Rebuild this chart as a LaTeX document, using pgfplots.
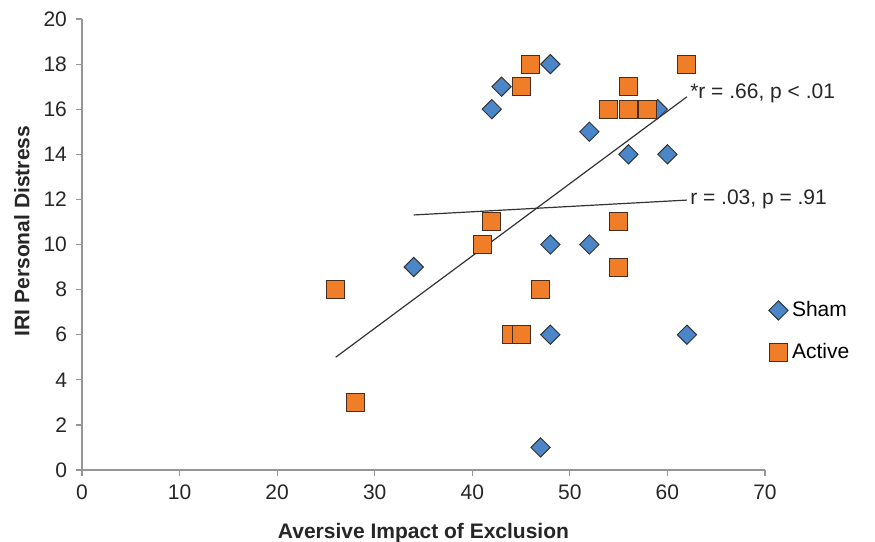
\documentclass[border=0pt]{standalone}
\usepackage{fontspec}
\setmainfont{Liberation Sans}
\usepackage{pgfplots}
\pgfplotsset{compat=1.18}
\definecolor{shamfill}{RGB}{74,134,200}
\definecolor{actfill}{RGB}{240,125,40}
\definecolor{actdraw}{RGB}{70,45,30}
\definecolor{axgray}{RGB}{150,150,150}
\begin{document}
\begin{tikzpicture}[x=1pt,y=1pt]
\useasboundingbox (-41pt,-36pt) rectangle (396.5pt,235pt);
\begin{axis}[
  at={(0pt,0pt)}, anchor=origin,
  scale only axis, width=341.5pt, height=225.5pt,
  xmin=0, xmax=70, ymin=0, ymax=20,
  xtick={0,10,...,70}, ytick={0,2,...,20},
  axis x line*=bottom, axis y line*=left,
  axis line style={axgray, line width=0.6pt},
  tick style={axgray, line width=0.6pt},
  tick align=outside, major tick length=3pt,
  every x tick/.style={axgray}, every y tick/.style={axgray},
  tick label style={font=\fontsize{10.5}{12}\selectfont, text=black!85},
  /pgf/number format/assume math mode=true,
  xticklabel style={yshift=-1pt},
  yticklabel style={xshift=-1pt},
  xlabel={\bfseries Aversive Impact of Exclusion},
  ylabel={\bfseries IRI Personal Distress},
  label style={font=\fontsize{10.5}{12}\selectfont, text=black!85},
  xlabel style={at={(axis description cs:0.5,-0.14)}, anchor=center},
  ylabel style={at={(axis description cs:-0.088,0.53)}, anchor=center},
  legend style={draw=none, fill=none, at={(rel axis cs:1.005,0.307)}, anchor=west,
    font=\fontsize{10.5}{12}\selectfont, row sep=8pt, inner sep=0pt},
  legend cell align=left,
  legend image code/.code={\draw[#1] plot coordinates {(0.1cm,0cm)};},
  clip=false,
]
\addplot[only marks, mark=square*, mark size=3.4pt,
  mark options={rotate=45, fill=shamfill, draw=black!80, line width=0.5pt}]
  coordinates {
  (34,9) (42,16) (43,17) (48,18) (48,10) (52,10) (52,15) (56,14)
  (59,16) (60,14) (48,6) (62,6) (47,1)
};
\addlegendentry{Sham}
\addplot[only marks, mark=square*, mark size=4.5pt,
  mark options={fill=actfill, draw=actdraw, line width=0.5pt}]
  coordinates {
  (26,8) (28,3) (41,10) (42,11) (44,6) (45,6) (45,17) (46,18) (47,8)
  (54,16) (56,16) (58,16) (56,17) (55,11) (55,9) (62,18)
};
\addlegendentry{Active}
\addplot[black!80, line width=0.6pt, forget plot] coordinates {(26,5.0) (62,16.55)};
\addplot[black!80, line width=0.6pt, forget plot] coordinates {(34,11.31) (62,11.97)};
\node[anchor=west, font=\fontsize{10.5}{12}\selectfont, text=black!85, inner sep=0pt] at (axis cs:62.3,16.7) {*r = .66, p < .01};
\node[anchor=west, font=\fontsize{10.5}{12}\selectfont, text=black!85, inner sep=0pt] at (axis cs:62.3,12.0) {r = .03, p = .91};
\end{axis}
\end{tikzpicture}
\end{document}
